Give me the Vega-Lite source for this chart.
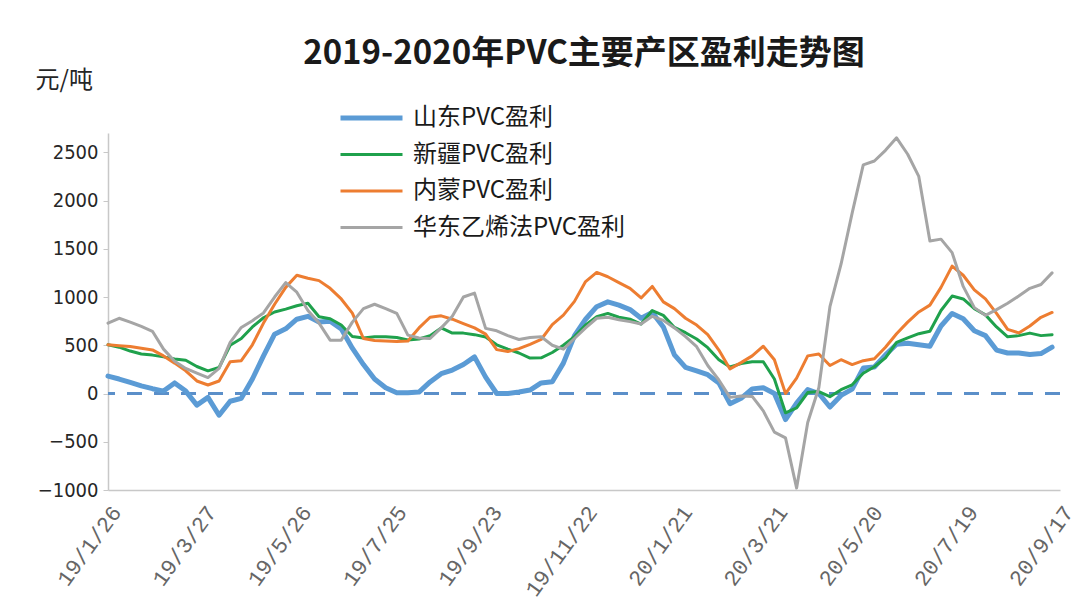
{
  "$schema": "https://vega.github.io/schema/vega-lite/v6.json",
  "width": 952,
  "height": 357,
  "autosize": {"type": "none"},
  "padding": {"left": 108, "top": 133, "right": 31, "bottom": 121},
  "background": "white",
  "config": {"view": {"stroke": null}, "font": "Noto Sans CJK SC"},
  "title": {
    "text": "2019-2020年PVC主要产区盈利走势图",
    "font": "Noto Sans CJK SC",
    "fontSize": 33,
    "fontWeight": "bold",
    "color": "#1a1a1a",
    "anchor": "middle",
    "frame": "group",
    "offset": -3
  },
  "data": {
    "values": [
      {"date": "2019-01-26", "山东PVC盈利": 180, "新疆PVC盈利": 505, "内蒙PVC盈利": 505, "华东乙烯法PVC盈利": 730},
      {"date": "2019-02-02", "山东PVC盈利": 150, "新疆PVC盈利": 480, "内蒙PVC盈利": 495, "华东乙烯法PVC盈利": 780},
      {"date": "2019-02-09", "山东PVC盈利": 115, "新疆PVC盈利": 440, "内蒙PVC盈利": 487, "华东乙烯法PVC盈利": 740},
      {"date": "2019-02-16", "山东PVC盈利": 80, "新疆PVC盈利": 410, "内蒙PVC盈利": 470, "华东乙烯法PVC盈利": 695},
      {"date": "2019-02-23", "山东PVC盈利": 50, "新疆PVC盈利": 398, "内蒙PVC盈利": 452, "华东乙烯法PVC盈利": 645},
      {"date": "2019-03-02", "山东PVC盈利": 25, "新疆PVC盈利": 380, "内蒙PVC盈利": 390, "华东乙烯法PVC盈利": 460},
      {"date": "2019-03-09", "山东PVC盈利": 110, "新疆PVC盈利": 358, "内蒙PVC盈利": 315, "华东乙烯法PVC盈利": 335},
      {"date": "2019-03-16", "山东PVC盈利": 25, "新疆PVC盈利": 345, "内蒙PVC盈利": 235, "华东乙烯法PVC盈利": 260},
      {"date": "2019-03-23", "山东PVC盈利": -120, "新疆PVC盈利": 280, "内蒙PVC盈利": 130, "华东乙烯法PVC盈利": 212},
      {"date": "2019-03-30", "山东PVC盈利": -40, "新疆PVC盈利": 235, "内蒙PVC盈利": 88, "华东乙烯法PVC盈利": 165},
      {"date": "2019-04-06", "山东PVC盈利": -225, "新疆PVC盈利": 270, "内蒙PVC盈利": 130, "华东乙烯法PVC盈利": 260},
      {"date": "2019-04-13", "山东PVC盈利": -80, "新疆PVC盈利": 500, "内蒙PVC盈利": 329, "华东乙烯法PVC盈利": 530},
      {"date": "2019-04-20", "山东PVC盈利": -50, "新疆PVC盈利": 570, "内蒙PVC盈利": 340, "华东乙烯法PVC盈利": 685},
      {"date": "2019-04-27", "山东PVC盈利": 150, "新疆PVC盈利": 690, "内蒙PVC盈利": 505, "华东乙烯法PVC盈利": 755},
      {"date": "2019-05-04", "山东PVC盈利": 390, "新疆PVC盈利": 785, "内蒙PVC盈利": 730, "华东乙烯法PVC盈利": 835},
      {"date": "2019-05-11", "山东PVC盈利": 615, "新疆PVC盈利": 845, "内蒙PVC盈利": 925, "华东乙烯法PVC盈利": 1000},
      {"date": "2019-05-18", "山东PVC盈利": 670, "新疆PVC盈利": 875, "内蒙PVC盈利": 1100, "华东乙烯法PVC盈利": 1150},
      {"date": "2019-05-25", "山东PVC盈利": 770, "新疆PVC盈利": 910, "内蒙PVC盈利": 1225, "华东乙烯法PVC盈利": 1050},
      {"date": "2019-06-01", "山东PVC盈利": 800, "新疆PVC盈利": 935, "内蒙PVC盈利": 1195, "华东乙烯法PVC盈利": 860},
      {"date": "2019-06-08", "山东PVC盈利": 740, "新疆PVC盈利": 795, "内蒙PVC盈利": 1170, "华东乙烯法PVC盈利": 730},
      {"date": "2019-06-15", "山东PVC盈利": 750, "新疆PVC盈利": 775, "内蒙PVC盈利": 1090, "华东乙烯法PVC盈利": 553},
      {"date": "2019-06-22", "山东PVC盈利": 670, "新疆PVC盈利": 710, "内蒙PVC盈利": 980, "华东乙烯法PVC盈利": 553},
      {"date": "2019-06-29", "山东PVC盈利": 470, "新疆PVC盈利": 590, "内蒙PVC盈利": 833, "华东乙烯法PVC盈利": 740},
      {"date": "2019-07-06", "山东PVC盈利": 300, "新疆PVC盈利": 575, "内蒙PVC盈利": 570, "华东乙烯法PVC盈利": 880},
      {"date": "2019-07-13", "山东PVC盈利": 150, "新疆PVC盈利": 588, "内蒙PVC盈利": 550, "华东乙烯法PVC盈利": 925},
      {"date": "2019-07-20", "山东PVC盈利": 60, "新疆PVC盈利": 588, "内蒙PVC盈利": 545, "华东乙烯法PVC盈利": 880},
      {"date": "2019-07-27", "山东PVC盈利": 8, "新疆PVC盈利": 580, "内蒙PVC盈利": 540, "华东乙烯法PVC盈利": 830},
      {"date": "2019-08-03", "山东PVC盈利": 8, "新疆PVC盈利": 555, "内蒙PVC盈利": 545, "华东乙烯法PVC盈利": 605},
      {"date": "2019-08-10", "山东PVC盈利": 15, "新疆PVC盈利": 565, "内蒙PVC盈利": 680, "华东乙烯法PVC盈利": 575},
      {"date": "2019-08-17", "山东PVC盈利": 120, "新疆PVC盈利": 600, "内蒙PVC盈利": 790, "华东乙烯法PVC盈利": 570},
      {"date": "2019-08-24", "山东PVC盈利": 205, "新疆PVC盈利": 680, "内蒙PVC盈利": 805, "华东乙烯法PVC盈利": 680},
      {"date": "2019-08-31", "山东PVC盈利": 243, "新疆PVC盈利": 626, "内蒙PVC盈利": 770, "华东乙烯法PVC盈利": 800},
      {"date": "2019-09-07", "山东PVC盈利": 300, "新疆PVC盈利": 626, "内蒙PVC盈利": 725, "华东乙烯法PVC盈利": 1000},
      {"date": "2019-09-14", "山东PVC盈利": 380, "新疆PVC盈利": 610, "内蒙PVC盈利": 680, "华东乙烯法PVC盈利": 1040},
      {"date": "2019-09-21", "山东PVC盈利": 170, "新疆PVC盈利": 585, "内蒙PVC盈利": 615, "华东乙烯法PVC盈利": 675},
      {"date": "2019-09-28", "山东PVC盈利": 0, "新疆PVC盈利": 505, "内蒙PVC盈利": 455, "华东乙烯法PVC盈利": 650},
      {"date": "2019-10-05", "山东PVC盈利": 0, "新疆PVC盈利": 460, "内蒙PVC盈利": 435, "华东乙烯法PVC盈利": 600},
      {"date": "2019-10-12", "山东PVC盈利": 15, "新疆PVC盈利": 420, "内蒙PVC盈利": 465, "华东乙烯法PVC盈利": 560},
      {"date": "2019-10-19", "山东PVC盈利": 36, "新疆PVC盈利": 367, "内蒙PVC盈利": 510, "华东乙烯法PVC盈利": 580},
      {"date": "2019-10-26", "山东PVC盈利": 110, "新疆PVC盈利": 370, "内蒙PVC盈利": 560, "华东乙烯法PVC盈利": 588},
      {"date": "2019-11-02", "山东PVC盈利": 122, "新疆PVC盈利": 425, "内蒙PVC盈利": 715, "华东乙烯法PVC盈利": 500},
      {"date": "2019-11-09", "山东PVC盈利": 315, "新疆PVC盈利": 500, "内蒙PVC盈利": 812, "华东乙烯法PVC盈利": 460},
      {"date": "2019-11-16", "山东PVC盈利": 600, "新疆PVC盈利": 590, "内蒙PVC盈利": 955, "华东乙烯法PVC盈利": 570},
      {"date": "2019-11-23", "山东PVC盈利": 770, "新疆PVC盈利": 710, "内蒙PVC盈利": 1160, "华东乙烯法PVC盈利": 680},
      {"date": "2019-11-30", "山东PVC盈利": 900, "新疆PVC盈利": 795, "内蒙PVC盈利": 1255, "华东乙烯法PVC盈利": 780},
      {"date": "2019-12-07", "山东PVC盈利": 950, "新疆PVC盈利": 830, "内蒙PVC盈利": 1210, "华东乙烯法PVC盈利": 790},
      {"date": "2019-12-14", "山东PVC盈利": 916, "新疆PVC盈利": 790, "内蒙PVC盈利": 1150, "华东乙烯法PVC盈利": 765},
      {"date": "2019-12-21", "山东PVC盈利": 870, "新疆PVC盈利": 770, "内蒙PVC盈利": 1090, "华东乙烯法PVC盈利": 745},
      {"date": "2019-12-28", "山东PVC盈利": 780, "新疆PVC盈利": 720, "内蒙PVC盈利": 990, "华东乙烯法PVC盈利": 720},
      {"date": "2020-01-04", "山东PVC盈利": 840, "新疆PVC盈利": 860, "内蒙PVC盈利": 1110, "华东乙烯法PVC盈利": 800},
      {"date": "2020-01-11", "山东PVC盈利": 690, "新疆PVC盈利": 810, "内蒙PVC盈利": 950, "华东乙烯法PVC盈利": 758},
      {"date": "2020-01-18", "山东PVC盈利": 400, "新疆PVC盈利": 685, "内蒙PVC盈利": 880, "华东乙烯法PVC盈利": 680},
      {"date": "2020-01-25", "山东PVC盈利": 270, "新疆PVC盈利": 630, "内蒙PVC盈利": 780, "华东乙烯法PVC盈利": 590},
      {"date": "2020-02-01", "山东PVC盈利": 235, "新疆PVC盈利": 565, "内蒙PVC盈利": 710, "华东乙烯法PVC盈利": 485},
      {"date": "2020-02-08", "山东PVC盈利": 195, "新疆PVC盈利": 475, "内蒙PVC盈利": 610, "华东乙烯法PVC盈利": 290},
      {"date": "2020-02-15", "山东PVC盈利": 110, "新疆PVC盈利": 350, "内蒙PVC盈利": 450, "华东乙烯法PVC盈利": 140},
      {"date": "2020-02-22", "山东PVC盈利": -105, "新疆PVC盈利": 275, "内蒙PVC盈利": 255, "华东乙烯法PVC盈利": -40},
      {"date": "2020-02-29", "山东PVC盈利": -50, "新疆PVC盈利": 310, "内蒙PVC盈利": 320, "华东乙烯法PVC盈利": -25},
      {"date": "2020-03-07", "山东PVC盈利": 48, "新疆PVC盈利": 329, "内蒙PVC盈利": 390, "华东乙烯法PVC盈利": -30},
      {"date": "2020-03-14", "山东PVC盈利": 60, "新疆PVC盈利": 329, "内蒙PVC盈利": 490, "华东乙烯法PVC盈利": -180},
      {"date": "2020-03-21", "山东PVC盈利": 0, "新疆PVC盈利": 150, "内蒙PVC盈利": 350, "华东乙烯法PVC盈利": -400},
      {"date": "2020-03-28", "山东PVC盈利": -270, "新疆PVC盈利": -200, "内蒙PVC盈利": 0, "华东乙烯法PVC盈利": -460},
      {"date": "2020-04-04", "山东PVC盈利": -100, "新疆PVC盈利": -150, "内蒙PVC盈利": 160, "华东乙烯法PVC盈利": -980},
      {"date": "2020-04-11", "山东PVC盈利": 40, "新疆PVC盈利": 10, "内蒙PVC盈利": 390, "华东乙烯法PVC盈利": -300},
      {"date": "2020-04-18", "山东PVC盈利": 0, "新疆PVC盈利": 20, "内蒙PVC盈利": 410, "华东乙烯法PVC盈利": 60},
      {"date": "2020-04-25", "山东PVC盈利": -140, "新疆PVC盈利": -33, "内蒙PVC盈利": 290, "华东乙烯法PVC盈利": 900},
      {"date": "2020-05-02", "山东PVC盈利": -20, "新疆PVC盈利": 40, "内蒙PVC盈利": 350, "华东乙烯法PVC盈利": 1340},
      {"date": "2020-05-09", "山东PVC盈利": 45, "新疆PVC盈利": 90, "内蒙PVC盈利": 300, "华东乙烯法PVC盈利": 1870},
      {"date": "2020-05-16", "山东PVC盈利": 264, "新疆PVC盈利": 210, "内蒙PVC盈利": 340, "华东乙烯法PVC盈利": 2370},
      {"date": "2020-05-23", "山东PVC盈利": 275, "新疆PVC盈利": 277, "内蒙PVC盈利": 360, "华东乙烯法PVC盈利": 2410},
      {"date": "2020-05-30", "山东PVC盈利": 400, "新疆PVC盈利": 370, "内蒙PVC盈利": 480, "华东乙烯法PVC盈利": 2520},
      {"date": "2020-06-06", "山东PVC盈利": 510, "新疆PVC盈利": 530, "内蒙PVC盈利": 620, "华东乙烯法PVC盈利": 2650},
      {"date": "2020-06-13", "山东PVC盈利": 520, "新疆PVC盈利": 577, "内蒙PVC盈利": 740, "华东乙烯法PVC盈利": 2480},
      {"date": "2020-06-20", "山东PVC盈利": 505, "新疆PVC盈利": 620, "内蒙PVC盈利": 845, "华东乙烯法PVC盈利": 2250},
      {"date": "2020-06-27", "山东PVC盈利": 490, "新疆PVC盈利": 645, "内蒙PVC盈利": 916, "华东乙烯法PVC盈利": 1580},
      {"date": "2020-07-04", "山东PVC盈利": 700, "新疆PVC盈利": 860, "内蒙PVC盈利": 1100, "华东乙烯法PVC盈利": 1600},
      {"date": "2020-07-11", "山东PVC盈利": 830, "新疆PVC盈利": 1010, "内蒙PVC盈利": 1320, "华东乙烯法PVC盈利": 1460},
      {"date": "2020-07-18", "山东PVC盈利": 775, "新疆PVC盈利": 980, "内蒙PVC盈利": 1226, "华东乙烯法PVC盈利": 1110},
      {"date": "2020-07-25", "山东PVC盈利": 650, "新疆PVC盈利": 880, "内蒙PVC盈利": 1075, "华东乙烯法PVC盈利": 890},
      {"date": "2020-08-01", "山东PVC盈利": 600, "新疆PVC盈利": 815, "内蒙PVC盈利": 980, "华东乙烯法PVC盈利": 810},
      {"date": "2020-08-08", "山东PVC盈利": 450, "新疆PVC盈利": 690, "内蒙PVC盈利": 830, "华东乙烯法PVC盈利": 870},
      {"date": "2020-08-15", "山东PVC盈利": 420, "新疆PVC盈利": 588, "内蒙PVC盈利": 665, "华东乙烯法PVC盈利": 935},
      {"date": "2020-08-22", "山东PVC盈利": 420, "新疆PVC盈利": 600, "内蒙PVC盈利": 628, "华东乙烯法PVC盈利": 1010},
      {"date": "2020-08-29", "山东PVC盈利": 405, "新疆PVC盈利": 626, "内蒙PVC盈利": 700, "华东乙烯法PVC盈利": 1090},
      {"date": "2020-09-05", "山东PVC盈利": 414, "新疆PVC盈利": 600, "内蒙PVC盈利": 790, "华东乙烯法PVC盈利": 1130},
      {"date": "2020-09-12", "山东PVC盈利": 480, "新疆PVC盈利": 610, "内蒙PVC盈利": 840, "华东乙烯法PVC盈利": 1250}
    ]
  },
  "layer": [
    {
      "mark": {"type": "rule", "color": "#5b8fc9", "strokeWidth": 3, "strokeDash": [15, 12]},
      "encoding": {"y": {"datum": 0}}
    },
    {
      "transform": [
        {"fold": ["山东PVC盈利", "新疆PVC盈利", "内蒙PVC盈利", "华东乙烯法PVC盈利"], "as": ["series", "value"]}
      ],
      "mark": {"type": "line", "strokeJoin": "round", "strokeCap": "round"},
      "encoding": {
        "x": {
          "field": "date",
          "type": "temporal",
          "scale": {
            "type": "utc",
            "domain": [
              {"year": 2019, "month": 1, "date": 26, "utc": true},
              {"year": 2020, "month": 9, "date": 17, "utc": true}
            ]
          },
          "axis": {
            "title": null,
            "grid": false,
            "values": [
              {"year": 2019, "month": 1, "date": 26, "utc": true},
              {"year": 2019, "month": 3, "date": 27, "utc": true},
              {"year": 2019, "month": 5, "date": 26, "utc": true},
              {"year": 2019, "month": 7, "date": 25, "utc": true},
              {"year": 2019, "month": 9, "date": 23, "utc": true},
              {"year": 2019, "month": 11, "date": 22, "utc": true},
              {"year": 2020, "month": 1, "date": 21, "utc": true},
              {"year": 2020, "month": 3, "date": 21, "utc": true},
              {"year": 2020, "month": 5, "date": 20, "utc": true},
              {"year": 2020, "month": 7, "date": 19, "utc": true},
              {"year": 2020, "month": 9, "date": 17, "utc": true}
            ],
            "labelExpr": "utcFormat(datum.value, '%y/%-m/%-d')",
            "ticks": false,
            "domainColor": "#c8c8c8",
            "domainWidth": 1.5,
            "labelAngle": -54,
            "labelAlign": "right",
            "labelBaseline": "middle",
            "labelPadding": 18,
            "labelOffset": 8,
            "labelFont": "Liberation Mono, Courier New, monospace",
            "labelFontSize": 22,
            "labelColor": "#666666",
            "labelOverlap": false,
            "labelBound": false,
            "labelFlush": false
          }
        },
        "y": {
          "field": "value",
          "type": "quantitative",
          "scale": {"domain": [-1000, 2700], "nice": false, "zero": false},
          "axis": {
            "values": [-1000, -500, 0, 500, 1000, 1500, 2000, 2500],
            "format": "d",
            "grid": false,
            "domainColor": "#c8c8c8",
            "domainWidth": 1.5,
            "tickColor": "#c8c8c8",
            "tickSize": 5,
            "labelPadding": 5,
            "labelFont": "Liberation Sans Narrow, DejaVu Sans Condensed, Liberation Sans, sans-serif",
            "labelFontSize": 20,
            "labelColor": "#262626",
            "title": "元/吨",
            "titleAngle": 0,
            "titleX": -73,
            "titleY": -53,
            "titleAlign": "left",
            "titleBaseline": "middle",
            "titleFont": "Noto Sans CJK SC",
            "titleFontSize": 24,
            "titleFontWeight": "normal",
            "titleColor": "#262626"
          }
        },
        "color": {
          "field": "series",
          "type": "nominal",
          "sort": ["山东PVC盈利", "新疆PVC盈利", "内蒙PVC盈利", "华东乙烯法PVC盈利"],
          "scale": {
            "domain": ["山东PVC盈利", "新疆PVC盈利", "内蒙PVC盈利", "华东乙烯法PVC盈利"],
            "range": ["#5b9bd5", "#1fa14c", "#ed7d31", "#a5a5a5"]
          },
          "legend": {
            "title": null,
            "orient": "none",
            "legendX": 230,
            "legendY": -33,
            "direction": "vertical",
            "symbolType": "stroke",
            "symbolSize": 3844,
            "clipHeight": 36,
            "rowPadding": 0.5,
            "padding": 0,
            "labelOffset": 8,
            "labelFont": "Noto Sans CJK SC",
            "labelFontSize": 24,
            "labelColor": "#1a1a1a",
            "labelLimit": 400
          }
        },
        "strokeWidth": {
          "field": "series",
          "type": "nominal",
          "sort": ["山东PVC盈利", "新疆PVC盈利", "内蒙PVC盈利", "华东乙烯法PVC盈利"],
          "scale": {
            "type": "ordinal",
            "domain": ["山东PVC盈利", "新疆PVC盈利", "内蒙PVC盈利", "华东乙烯法PVC盈利"],
            "range": [5, 3, 3, 3]
          },
          "legend": {
            "title": null,
            "orient": "none",
            "legendX": 230,
            "legendY": -33,
            "direction": "vertical",
            "symbolType": "stroke",
            "symbolSize": 3844,
            "clipHeight": 36,
            "rowPadding": 0.5,
            "padding": 0,
            "labelOffset": 8,
            "labelFont": "Noto Sans CJK SC",
            "labelFontSize": 24,
            "labelColor": "#1a1a1a",
            "labelLimit": 400
          }
        }
      }
    }
  ]
}
